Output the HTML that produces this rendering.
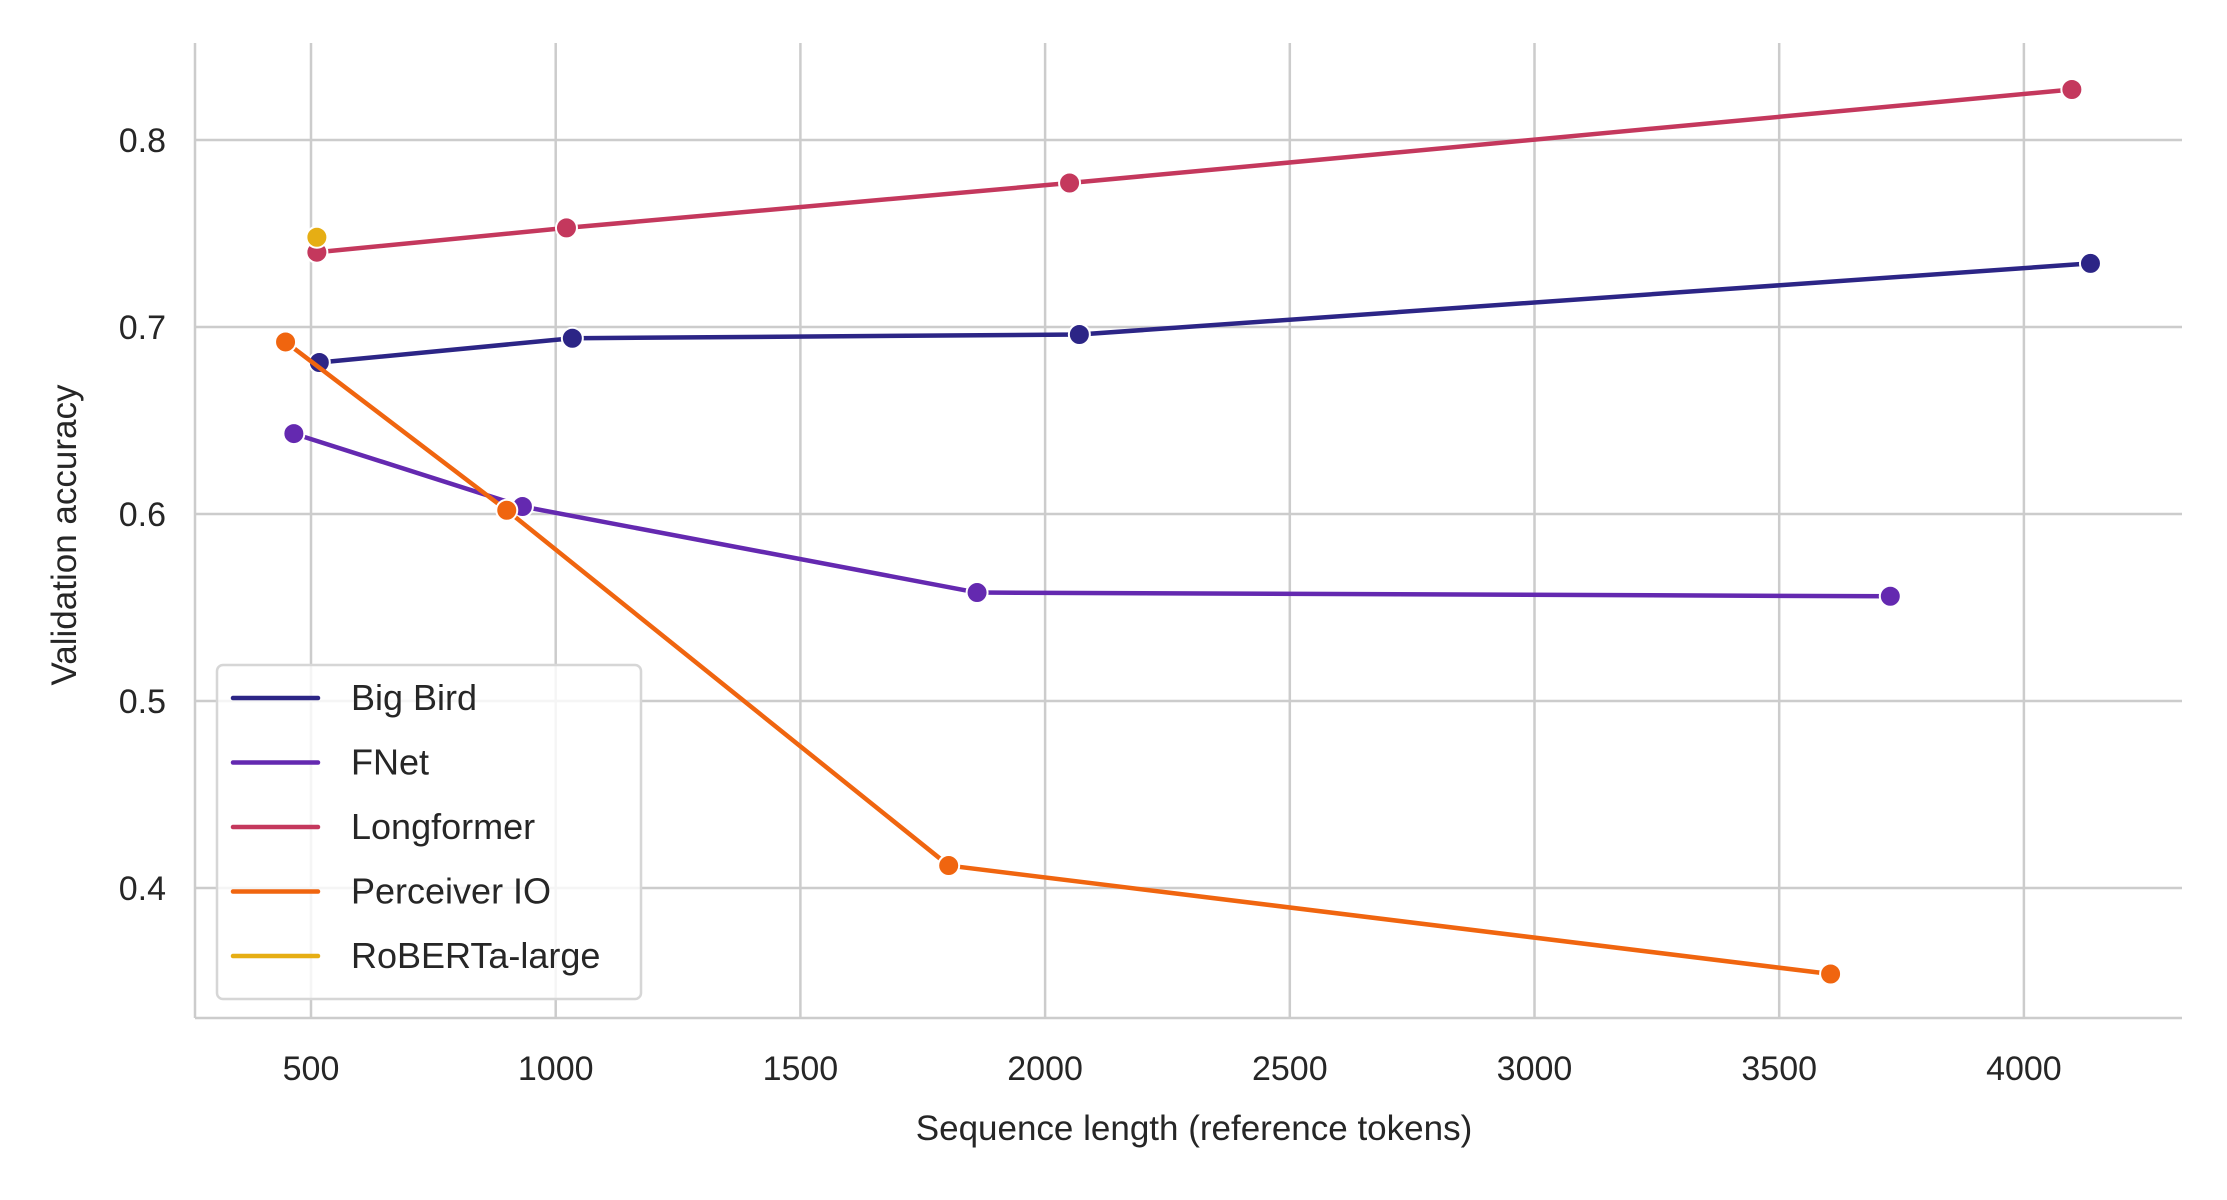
<!DOCTYPE html>
<html><head><meta charset="utf-8"><style>
body{margin:0;background:#fff;}
svg{display:block;font-family:"Liberation Sans","DejaVu Sans",sans-serif;}
</style></head><body>
<svg id="chart" width="2227" height="1200" viewBox="0 0 2227 1200" xmlns="http://www.w3.org/2000/svg">
<g id="grid"></g>
<g id="series"></g>
<g id="ticks"></g>
<text x="1194" y="1140" font-size="35" fill="#262626" text-anchor="middle">Sequence length (reference tokens)</text>
<text transform="translate(76,535) rotate(-90)" font-size="35" fill="#262626" text-anchor="middle">Validation accuracy</text>
<g id="legend"></g>
</svg>
<script>
const seriesNames = ["Big Bird","FNet","Longformer","Perceiver IO","RoBERTa-large"];
const seriesColors = ["#2c2586","#6429b0","#c4385d","#f0650f","#e6ae14"];
const bigBirdX = [517,1034,2070,4136];
const bigBirdY = [0.681,0.694,0.696,0.734];
const fnetX = [465,932,1861,3727];
const fnetY = [0.643,0.604,0.558,0.556];
const longformerX = [512,1022,2050,4098];
const longformerY = [0.740,0.753,0.777,0.827];
const perceiverX = [448,900,1803,3605];
const perceiverY = [0.692,0.602,0.412,0.354];
const robertaX = [512];
const robertaY = [0.748];
const xTicks = [500,1000,1500,2000,2500,3000,3500,4000];
const yTicks = [0.4,0.5,0.6,0.7,0.8];

const NS="http://www.w3.org/2000/svg";
const L=195,R=2182,T=43,B=1018;
function xs(v){return 311+(v-500)*0.4894;}
function ys(v){return 140+(0.8-v)*1870;}
function mk(tag,attrs,parent){const e=document.createElementNS(NS,tag);for(const k in attrs)e.setAttribute(k,attrs[k]);parent.appendChild(e);return e;}
const grid=document.getElementById('grid'),ticks=document.getElementById('ticks'),ser=document.getElementById('series'),leg=document.getElementById('legend');
xTicks.forEach(t=>{
  const l=mk('line',{x1:xs(t),x2:xs(t),y1:T,y2:B,stroke:'#cccccc','stroke-width':2.5},grid);
  
  
  const tx=mk('text',{x:xs(t),y:1080,'font-size':34,fill:'#262626','text-anchor':'middle'},ticks);
  tx.textContent=t;
  
  
});
yTicks.forEach(t=>{
  const l=mk('line',{x1:L,x2:R,y1:ys(t),y2:ys(t),stroke:'#cccccc','stroke-width':2.5},grid);
  
  
  const tx=mk('text',{x:166,y:ys(t)+12,'font-size':34,fill:'#262626','text-anchor':'end'},ticks);
  tx.textContent=t.toFixed(1);
  
  
});
const sp1=mk('line',{x1:L,x2:L,y1:T,y2:B,stroke:'#cccccc','stroke-width':2.5},grid);


const sp2=mk('line',{x1:L,x2:R,y1:B,y2:B,stroke:'#cccccc','stroke-width':2.5},grid);


const data=[[bigBirdX,bigBirdY],[fnetX,fnetY],[longformerX,longformerY],[perceiverX,perceiverY],[robertaX,robertaY]];
data.forEach((d,i)=>{
  const g=mk('g',{},ser);
  
  
  const pts=d[0].map((x,j)=>xs(x)+','+ys(d[1][j])).join(' ');
  if(d[0].length>1){
    const pl=mk('polyline',{points:pts,fill:'none',stroke:seriesColors[i],'stroke-width':4.5,'stroke-linejoin':'round'},g);
    
    
  }
  d[0].forEach((x,j)=>{
    const c=mk('circle',{cx:xs(x),cy:ys(d[1][j]),r:10.5,fill:seriesColors[i],stroke:'#fff','stroke-width':2},g);
    
    
  });
});
const box=mk('rect',{x:217,y:665,width:424,height:334,rx:6,fill:'#fff','fill-opacity':0.8,stroke:'#d6d6d6','stroke-width':2.5},leg);


seriesNames.forEach((n,i)=>{
  const y=698+i*64.5;
  const g=mk('g',{},leg);
  
  
  mk('line',{x1:233,x2:318,y1:y,y2:y,stroke:seriesColors[i],'stroke-width':4.5,'stroke-linecap':'round'},g);
  const t=mk('text',{x:351,y:y+12,'font-size':36,fill:'#262626'},g);
  t.textContent=n;
});
</script>
</body></html>
